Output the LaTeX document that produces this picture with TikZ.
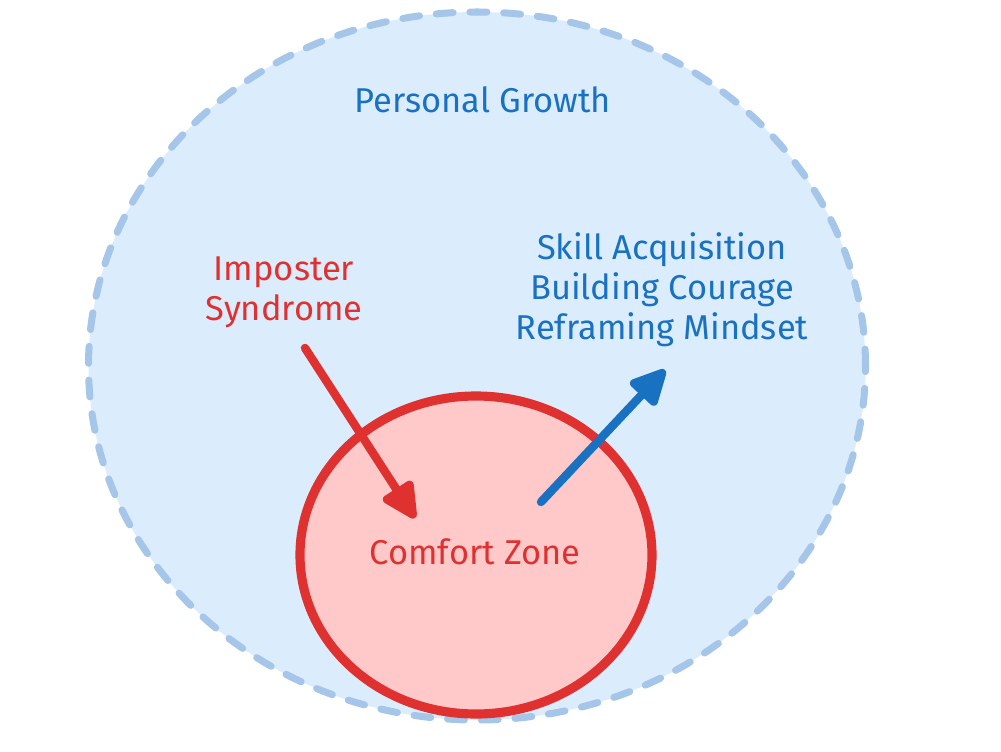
\documentclass[tikz,border=0pt]{standalone}
\usepackage{fontspec}
\setmainfont{Fira Sans}
\usetikzlibrary{arrows.meta,shapes.geometric}
\definecolor{growthfill}{HTML}{DBEDFD}
\definecolor{growthline}{HTML}{A5C6E8}
\definecolor{zonefill}{HTML}{FFC9C9}
\definecolor{zoneline}{HTML}{E03131}
\definecolor{textblue}{HTML}{1971C2}
\tikzset{
  label/.style={font=\fontsize{24.5}{28.5}\selectfont, align=center},
  push/.style={line width=6pt, line cap=round, -{Triangle[length=29pt,width=27pt,round]}}
}
\begin{document}
\begin{tikzpicture}[x=0.025cm, y=-0.025cm]
            \useasboundingbox (0,0) rectangle (1001,751);

            % 外圈：个人成长
            \node[ellipse, draw=growthline, fill=growthfill, line width=5pt, dash pattern=on 12pt off 12pt, line cap=round,
                  minimum width=777*0.025cm, minimum height=708*0.025cm, inner sep=0pt] (growth) at (477,366) {};

            % 内圈：舒适区
            \node[ellipse, draw=zoneline, fill=zonefill, line width=6.5pt,
                  minimum width=352*0.025cm, minimum height=318*0.025cm, inner sep=0pt] (zone) at (476,555) {};

            % 文字
            \node[label, text=textblue] (growthtext) at (483,100) {Personal Growth};
            \node[label, text=zoneline] (zonetext) at (475,552) {Comfort Zone};
            \node[label, text=zoneline] (imposter) at (284,292) {Imposter\\Syndrome};
            \node[label, text=textblue] (skills) at (662,290) {Skill Acquisition\\Building Courage\\Reframing Mindset};

            % 箭头
            \coordinate (inA) at (305,348);
            \coordinate (inB) at (415,518);
            \coordinate (outA) at (541,502);
            \coordinate (outB) at (665,370);
            \draw[push, zoneline] (inA) -- (inB);
            \draw[push, textblue] (outA) -- (outB);
\end{tikzpicture}
\end{document}
